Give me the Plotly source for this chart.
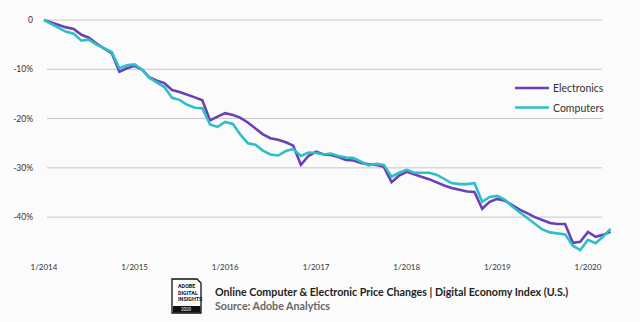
import pandas as pd
import plotly.graph_objects as go

# Monthly index change since January 2014 (%)
months = pd.date_range("2014-01-01", periods=76, freq="MS")

electronics = [
    0.0, -0.5, -1.0, -1.5, -1.8, -3.0, -3.6, -4.8, -5.8, -6.7, -10.5, -9.8,
    -9.3, -10.1, -11.6, -12.3, -12.8, -14.2, -14.6, -15.1, -15.7, -16.3, -20.4, -19.6,
    -18.9, -19.3, -19.8, -20.8, -22.0, -23.2, -24.0, -24.3, -24.8, -25.5, -29.4, -27.6,
    -26.7, -27.3, -27.4, -27.8, -28.4, -28.5, -29.0, -29.3, -29.4, -29.8, -32.9, -31.6,
    -30.8, -31.4, -31.8, -32.3, -33.0, -33.6, -34.1, -34.5, -34.8, -34.9, -38.3, -36.9,
    -36.3, -36.7, -37.6, -38.5, -39.2, -40.0, -40.6, -41.2, -41.4, -41.4, -45.2, -45.0,
    -43.0, -44.0, -43.6, -43.0,
]

computers = [
    0.0, -0.8, -1.6, -2.4, -2.8, -4.2, -4.0, -5.0, -5.7, -6.5, -9.8, -9.2,
    -9.0, -10.1, -11.7, -12.6, -13.6, -15.8, -16.2, -17.2, -17.8, -17.9, -21.2, -21.7,
    -20.7, -21.1, -23.2, -25.0, -25.3, -26.5, -27.3, -27.5, -26.6, -26.2, -27.6, -26.9,
    -27.0, -27.3, -27.1, -27.6, -27.9, -28.0, -28.8, -29.5, -29.2, -29.4, -31.8, -31.0,
    -30.4, -31.0, -31.0, -31.0, -31.4, -32.2, -33.1, -33.3, -33.3, -33.1, -36.9, -35.9,
    -35.7, -36.5, -37.8, -39.0, -40.2, -41.4, -42.5, -43.1, -43.3, -43.5, -45.8, -46.7,
    -44.6, -45.3, -44.0, -42.4,
]

series_names = ["Electronics", "Computers"]

y_ticks = [0, -10, -20, -30, -40]
y_tick_labels = ["0", "-10%", "-20%", "-30%", "-40%"]

title_text = "Online Computer & Electronic Price Changes | Digital Economy Index (U.S.)"
source_text = "Source: Adobe Analytics"

W, H = 640, 322
ML, MR, MT, MB = 34, 20, 10, 64
PW, PH = W - ML - MR, H - MT - MB


def px(x):
    return (x - ML) / PW


def py(y):
    return (H - MB - y) / PH


BG = "#fbfbfb"
PURPLE = "#6b3fb6"
TEAL = "#2cc0c6"
FONT = "Lato"

fig = go.Figure()
fig.add_trace(go.Scatter(x=months, y=electronics, name=series_names[0], mode="lines",
                         line=dict(color=PURPLE, width=2.6)))
fig.add_trace(go.Scatter(x=months, y=computers, name=series_names[1], mode="lines",
                         line=dict(color=TEAL, width=2.6)))

shapes = []
# horizontal reference lines
for v in y_ticks:
    shapes.append(dict(type="line", xref="paper", yref="y", x0=px(47), x1=px(602),
                       y0=v, y1=v, line=dict(color="#c6c6c6", width=1), layer="below"))

annotations = []

# legend keys drawn by hand
for i, (name, color) in enumerate(zip(series_names, [PURPLE, TEAL])):
    yy = py(88 + 19.5 * i)
    shapes.append(dict(type="line", xref="paper", yref="paper", x0=px(515), x1=px(549),
                       y0=yy, y1=yy, line=dict(color=color, width=2.4)))
    annotations.append(dict(text=name, xref="paper", yref="paper", x=px(551), y=yy,
                            xanchor="left", yanchor="middle", showarrow=False,
                            font=dict(family=FONT, size=10.5, color="#333")))

# badge: page outline with folded corner
path = (f"M {px(172)},{py(279)} L {px(197)},{py(279)} L {px(201)},{py(283)} "
        f"L {px(201)},{py(313)} L {px(172)},{py(313)} Z")
shapes.append(dict(type="path", xref="paper", yref="paper", path=path,
                   fillcolor="white", line=dict(color="#111", width=1.3)))
shapes.append(dict(type="rect", xref="paper", yref="paper",
                   x0=px(173), x1=px(200.5), y0=py(312.5), y1=py(306),
                   fillcolor="#111", line=dict(width=0)))

for i, word in enumerate(["ADOBE", "DIGITAL", "INSIGHTS"]):
    annotations.append(dict(text=f"<b>{word}</b>", xref="paper", yref="paper",
                            x=px(175.5), y=py(286 + 6.6 * i), xanchor="left", yanchor="middle",
                            showarrow=False, font=dict(family="Roboto", size=5.4, color="#111")))
annotations.append(dict(text="2020", xref="paper", yref="paper", x=px(186.5), y=py(309.5),
                        xanchor="center", yanchor="middle", showarrow=False,
                        font=dict(family="Roboto", size=4.5, color="white")))
annotations.append(dict(text=title_text, xref="paper", yref="paper", x=px(213), y=py(291.5),
                        xanchor="left", yanchor="middle", showarrow=False,
                        font=dict(family=FONT, size=10.7, color="#222", weight=700)))
annotations.append(dict(text=source_text, xref="paper", yref="paper", x=px(213), y=py(305),
                        xanchor="left", yanchor="middle", showarrow=False,
                        font=dict(family=FONT, size=10.7, color="#666", weight=700)))

fig.update_layout(
    width=W, height=H,
    margin=dict(l=ML, r=MR, t=MT, b=MB, pad=0),
    paper_bgcolor=BG, plot_bgcolor=BG,
    font=dict(family=FONT, color="#333"),
    showlegend=False,
    shapes=shapes,
    annotations=annotations,
)

fig.update_xaxes(
    type="date",
    range=["2013-11-22", "2020-05-09"],
    dtick="M12", tick0="2014-01-01", tickformat="%-m/%Y",
    showgrid=False, zeroline=False, showline=False, ticks="",
    ticklabelstandoff=3,
    tickfont=dict(size=8, color="#333"),
)
fig.update_yaxes(
    range=[-48.3, 2.03],
    tickvals=y_ticks, ticktext=y_tick_labels,
    showgrid=False, zeroline=False, showline=False, ticks="",
    tickfont=dict(size=8.5, color="#333"),
)

fig.write_html("out.html")
